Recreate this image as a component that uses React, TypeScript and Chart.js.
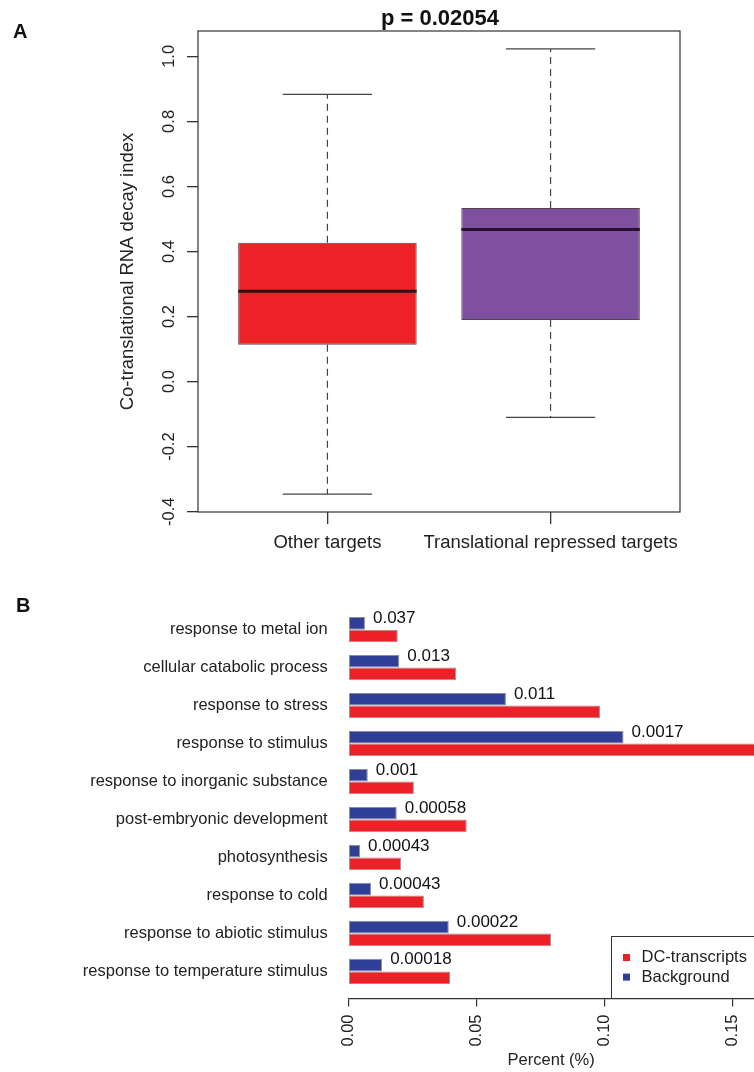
import React, { useEffect, useRef } from "react";
import { Chart, registerables } from "chart.js";

Chart.register(...registerables);

const FONT = "'Liberation Sans', Arial, Helvetica, sans-serif";

// ---------- Panel A: box plot ----------
const boxCategories = ["Other targets", "Translational repressed targets"];
const boxQ1 = [0.113, 0.189];
const boxMedian = [0.278, 0.468];
const boxQ3 = [0.427, 0.534];
const whiskerLow = [-0.346, -0.11];
const whiskerHigh = [0.883, 1.023];
const boxColors = ["#EC2227", "#7E509F"];
const boxYTicks = [-0.4, -0.2, 0.0, 0.2, 0.4, 0.6, 0.8, 1.0];
const pValueTitle = "p = 0.02054";
const boxYTitle = "Co-translational RNA decay index";

// ---------- Panel B: GO term bar chart ----------
const goTerms = [
  "response to metal ion",
  "cellular catabolic process",
  "response to stress",
  "response to stimulus",
  "response to inorganic substance",
  "post-embryonic development",
  "photosynthesis",
  "response to cold",
  "response to abiotic stimulus",
  "response to temperature stimulus",
];
const dcTranscripts = [0.0193, 0.0421, 0.0982, 0.165, 0.0256, 0.0462, 0.0206, 0.0295, 0.0791, 0.0397];
const background = [0.0065, 0.0199, 0.0615, 0.1074, 0.0076, 0.0189, 0.0046, 0.0089, 0.0392, 0.0132];
const pValues = ["0.037", "0.013", "0.011", "0.0017", "0.001", "0.00058", "0.00043", "0.00043", "0.00022", "0.00018"];
const percentTicks = [0.0, 0.05, 0.1, 0.15];
const seriesNames = ["DC-transcripts", "Background"];
const seriesColors = ["#EC2027", "#2F3F98"];

const boxPlugin = {
  id: "boxExtras",
  afterDatasetsDraw(chart: any) {
    const { ctx, chartArea } = chart;
    const xs = chart.scales.x;
    const ys = chart.scales.y;
    ctx.save();
    boxCategories.forEach((_, i) => {
      const c = i + 1;
      const cx = xs.getPixelForValue(c);
      const capL = xs.getPixelForValue(c - 0.2);
      const capR = xs.getPixelForValue(c + 0.2);
      const bL = xs.getPixelForValue(c - 0.4);
      const bR = xs.getPixelForValue(c + 0.4);
      ctx.strokeStyle = "#444";
      ctx.lineWidth = 1.2;
      ctx.setLineDash([7, 5]);
      ctx.beginPath();
      ctx.moveTo(cx, ys.getPixelForValue(boxQ3[i]));
      ctx.lineTo(cx, ys.getPixelForValue(whiskerHigh[i]));
      ctx.moveTo(cx, ys.getPixelForValue(boxQ1[i]));
      ctx.lineTo(cx, ys.getPixelForValue(whiskerLow[i]));
      ctx.stroke();
      ctx.setLineDash([]);
      ctx.beginPath();
      ctx.moveTo(capL, ys.getPixelForValue(whiskerHigh[i]));
      ctx.lineTo(capR, ys.getPixelForValue(whiskerHigh[i]));
      ctx.moveTo(capL, ys.getPixelForValue(whiskerLow[i]));
      ctx.lineTo(capR, ys.getPixelForValue(whiskerLow[i]));
      ctx.stroke();
      ctx.strokeStyle = "rgba(20,0,20,0.8)";
      ctx.lineWidth = 3;
      ctx.beginPath();
      ctx.moveTo(bL, ys.getPixelForValue(boxMedian[i]));
      ctx.lineTo(bR, ys.getPixelForValue(boxMedian[i]));
      ctx.stroke();
    });
    // frame
    ctx.strokeStyle = "#333";
    ctx.lineWidth = 1.2;
    ctx.strokeRect(chartArea.left, chartArea.top, chartArea.right - chartArea.left, chartArea.bottom - chartArea.top);
    // title
    ctx.fillStyle = "#111";
    ctx.font = `bold 22px ${FONT}`;
    ctx.textAlign = "center";
    ctx.textBaseline = "alphabetic";
    ctx.fillText(pValueTitle, (chartArea.left + chartArea.right) / 2 + 1, 25);
    ctx.restore();
  },
};

const barPlugin = {
  id: "barExtras",
  afterDatasetsDraw(chart: any) {
    const { ctx, chartArea } = chart;
    const meta = chart.getDatasetMeta(0);
    ctx.save();
    ctx.fillStyle = "#111";
    ctx.font = `17px ${FONT}`;
    ctx.textAlign = "left";
    ctx.textBaseline = "middle";
    meta.data.forEach((el: any, i: number) => {
      const p = el.getProps(["x", "y", "height"], true);
      ctx.fillText(pValues[i], p.x + 8, p.y - p.height / 2 + 1);
    });
    // legend
    const bottom = chartArea.bottom;
    const top = bottom - 62;
    const left = 611.5;
    ctx.fillStyle = "#fff";
    ctx.fillRect(left, top, 200, bottom - top);
    ctx.strokeStyle = "#333";
    ctx.lineWidth = 1;
    ctx.strokeRect(left, top, 200, bottom - top);
    ctx.font = `16.5px ${FONT}`;
    seriesNames.forEach((name, k) => {
      const cy = top + 21 + k * 19.6;
      ctx.fillStyle = seriesColors[k];
      ctx.fillRect(left + 11.5, cy - 3.5, 7, 7);
      ctx.fillStyle = "#222";
      ctx.fillText(name, left + 30, cy);
    });
    ctx.restore();
  },
};

export default function App() {
  const refA = useRef<HTMLCanvasElement>(null);
  const refB = useRef<HTMLCanvasElement>(null);

  useEffect(() => {
    document.body.style.margin = "0";
    const tickFont = { family: FONT, size: 16.5 };

    const chartA = new Chart(refA.current as HTMLCanvasElement, {
      type: "bar",
      data: {
        datasets: [
          {
            data: boxCategories.map((_, i) => ({ x: i + 1, y: [boxQ1[i], boxQ3[i]] })) as any,
            backgroundColor: boxColors,
            borderColor: "rgba(30,0,10,0.75)",
            borderWidth: 1,
            borderSkipped: false,
            categoryPercentage: 0.8,
            barPercentage: 1,
          },
        ],
      },
      options: {
        animation: false,
        responsive: false,
        maintainAspectRatio: false,
        layout: { padding: { top: 31, right: 74, left: 0, bottom: 0 } },
        plugins: { legend: { display: false }, tooltip: { enabled: false }, title: { display: false } },
        scales: {
          x: {
            type: "linear",
            offset: false,
            min: 0.42,
            max: 2.58,
            afterBuildTicks: (s: any) => {
              s.ticks = boxCategories.map((_, i) => ({ value: i + 1 }));
            },
            afterFit: (s: any) => {
              s.height = 58;
              s.paddingLeft = 0;
              s.paddingRight = 0;
            },
            ticks: {
              callback: (v: any) => boxCategories[Math.round(v) - 1],
              font: { family: FONT, size: 18.5 },
              color: "#222",
              padding: 8,
              maxRotation: 0,
              autoSkip: false,
            },
            grid: { offset: false, drawOnChartArea: false, drawTicks: true, tickLength: 12, color: "#333", lineWidth: 1.3 },
            border: { display: false },
          },
          y: {
            type: "linear",
            min: -0.401,
            max: 1.078,
            afterBuildTicks: (s: any) => {
              s.ticks = boxYTicks.map((v) => ({ value: v }));
            },
            afterFit: (s: any) => {
              s.width = 198;
              s.paddingTop = 0;
              s.paddingBottom = 0;
            },
            ticks: {
              callback: (v: any) => Number(v).toFixed(1),
              minRotation: 90,
              maxRotation: 90,
              crossAlign: "center",
              padding: 3,
              font: tickFont,
              color: "#222",
              autoSkip: false,
            },
            grid: { drawOnChartArea: false, drawTicks: true, tickLength: 11, color: "#333", lineWidth: 1.3 },
            border: { display: false },
            title: {
              display: true,
              text: boxYTitle,
              font: { family: FONT, size: 18.5 },
              color: "#222",
              padding: { top: 117, bottom: 0 },
            },
          },
        },
      } as any,
      plugins: [boxPlugin],
    });

    const chartB = new Chart(refB.current as HTMLCanvasElement, {
      type: "bar",
      data: {
        datasets: [
          {
            label: seriesNames[1],
            data: background.map((v, i) => ({ x: v, y: i })) as any,
            backgroundColor: seriesColors[1],
            borderColor: "rgba(0,0,30,0.45)",
            borderWidth: 1,
            borderSkipped: false,
            categoryPercentage: 2 / 3,
            barPercentage: 1,
          },
          {
            label: seriesNames[0],
            data: dcTranscripts.map((v, i) => ({ x: v, y: i })) as any,
            backgroundColor: seriesColors[0],
            borderColor: "rgba(60,0,0,0.45)",
            borderWidth: 1,
            borderSkipped: false,
            categoryPercentage: 2 / 3,
            barPercentage: 1,
          },
        ],
      },
      options: {
        indexAxis: "y",
        animation: false,
        responsive: false,
        maintainAspectRatio: false,
        layout: { padding: { top: 32.6, right: 0, left: 0, bottom: 0 } },
        plugins: { legend: { display: false }, tooltip: { enabled: false }, title: { display: false } },
        scales: {
          x: {
            type: "linear",
            offset: false,
            min: 0,
            max: 0.1583,
            afterBuildTicks: (s: any) => {
              s.ticks = percentTicks.map((v) => ({ value: v }));
            },
            afterFit: (s: any) => {
              s.height = 73.5;
              s.paddingLeft = 0;
              s.paddingRight = 0;
            },
            ticks: {
              callback: (v: any) => Number(v).toFixed(2),
              minRotation: 90,
              maxRotation: 90,
              padding: 8,
              font: tickFont,
              color: "#222",
              autoSkip: false,
            },
            grid: { offset: false, drawOnChartArea: false, drawTicks: true, tickLength: 8, color: "#333", lineWidth: 1.2 },
            border: { display: true, color: "#333", width: 1.2 },
            title: {
              display: true,
              text: "Percent (%)",
              font: { family: FONT, size: 16.5 },
              color: "#222",
              padding: { top: 0, bottom: 2 },
            },
          },
          y: {
            type: "linear",
            offset: false,
            reverse: true,
            min: -0.712,
            max: 9.712,
            afterBuildTicks: (s: any) => {
              s.ticks = goTerms.map((_, i) => ({ value: i }));
            },
            afterFit: (s: any) => {
              s.width = 348.3;
              s.paddingTop = 0;
              s.paddingBottom = 0;
            },
            ticks: {
              callback: (v: any) => goTerms[Math.round(v)],
              padding: 20.6,
              font: tickFont,
              color: "#222",
              autoSkip: false,
            },
            grid: { display: false, drawTicks: false, offset: false },
            border: { display: false },
          },
        },
      } as any,
      plugins: [barPlugin],
    });

    return () => {
      chartA.destroy();
      chartB.destroy();
    };
  }, []);

  const labelStyle: React.CSSProperties = {
    position: "absolute",
    fontFamily: FONT,
    fontWeight: "bold",
    fontSize: 20,
    color: "#111",
    lineHeight: "normal",
  };

  return (
    <div style={{ position: "absolute", left: 0, top: 0, width: 754, height: 1072, background: "#fff", overflow: "hidden" }}>
      <canvas ref={refA} width={754} height={570} style={{ position: "absolute", left: 0, top: 0 }} />
      <canvas ref={refB} width={754} height={502} style={{ position: "absolute", left: 0, top: 570 }} />
      <div style={{ ...labelStyle, left: 13, top: 20 }}>A</div>
      <div style={{ ...labelStyle, left: 16, top: 594 }}>B</div>
    </div>
  );
}
